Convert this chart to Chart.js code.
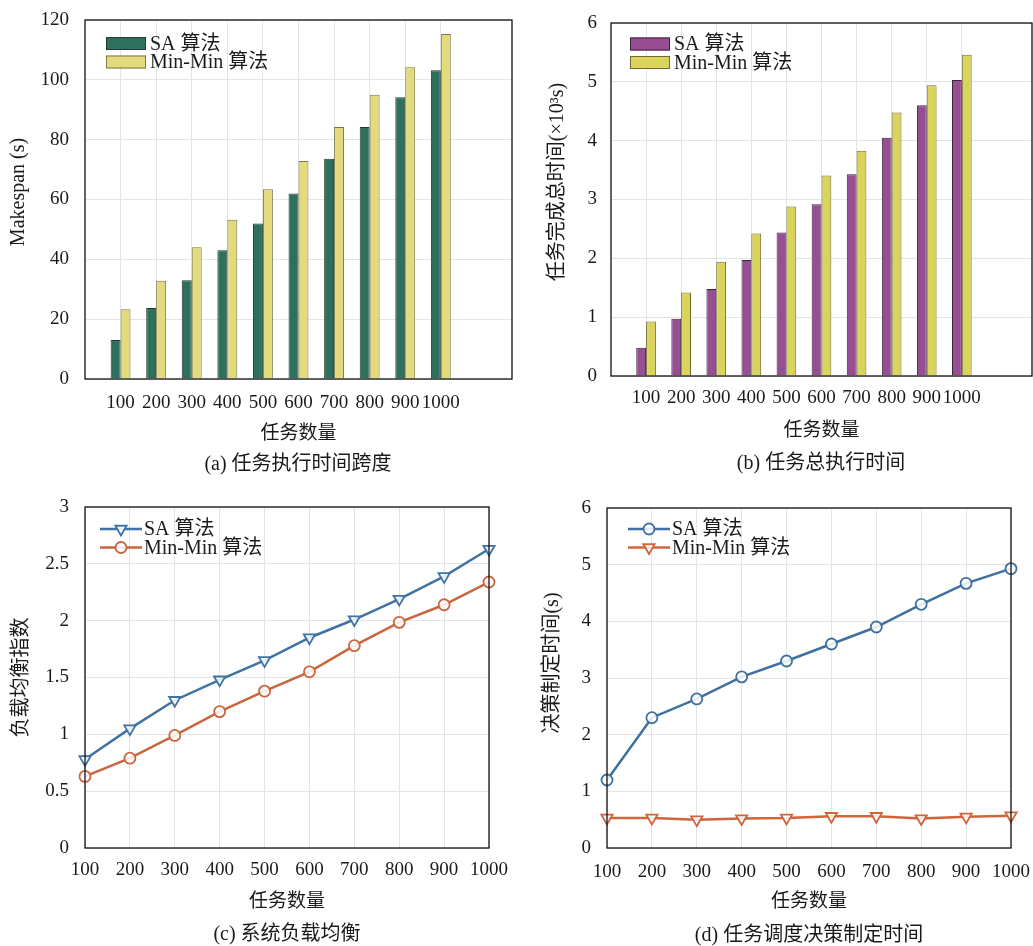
<!DOCTYPE html>
<html>
<head>
<meta charset="utf-8">
<script src="https://cdn.jsdelivr.net/npm/chart.js@4.4.0/dist/chart.umd.min.js"></script>
<style>
  body { margin: 0; background: #fff; }
  #page { position: relative; width: 1033px; height: 946px; overflow: hidden; }
  .box { position: absolute; }
  .cap { position: absolute; transform: translateX(-50%); white-space: nowrap;
         font: 20px 'Liberation Serif', 'Noto Sans CJK SC', serif; color: #1a1a1a; line-height: 1; }
</style>
</head>
<body>
<div id="page">
  <div class="box" style="left:0;top:0;width:516px;height:478px"><canvas id="chartA"></canvas></div>
  <div class="box" style="left:516px;top:0;width:517px;height:478px"><canvas id="chartB"></canvas></div>
  <div class="box" style="left:0;top:478px;width:516px;height:468px"><canvas id="chartC"></canvas></div>
  <div class="box" style="left:516px;top:478px;width:517px;height:468px"><canvas id="chartD"></canvas></div>
  <div class="cap" style="left:298px;top:453px">(a) 任务执行时间跨度</div>
  <div class="cap" style="left:821px;top:452px">(b) 任务总执行时间</div>
  <div class="cap" style="left:287px;top:923px">(c) 系统负载均衡</div>
  <div class="cap" style="left:809px;top:924px">(d) 任务调度决策制定时间</div>
</div>
<script>
'use strict';

// ---- data ----
const taskCounts = [100, 200, 300, 400, 500, 600, 700, 800, 900, 1000];
const seriesNames = ['SA 算法', 'Min-Min 算法'];

// (a) makespan (s)
const makespanSA = [13, 23.7, 33, 43, 52, 62, 73.6, 84.2, 94.2, 103.2];
const makespanMinMin = [23.3, 32.8, 44, 53.2, 63.4, 72.9, 84.2, 95, 104.2, 115.3];

// (b) total completion time (x10^3 s)
const totalTimeSA = [0.48, 0.975, 1.48, 1.97, 2.44, 2.92, 3.43, 4.05, 4.6, 5.03];
const totalTimeMinMin = [0.925, 1.42, 1.94, 2.42, 2.88, 3.41, 3.83, 4.48, 4.94, 5.46];

// (c) load balance index
const loadSA = [0.78, 1.05, 1.30, 1.48, 1.65, 1.85, 2.01, 2.19, 2.39, 2.63];
const loadMinMin = [0.63, 0.79, 0.99, 1.20, 1.38, 1.55, 1.78, 1.985, 2.14, 2.34];

// (d) decision time (s)
const decisionSA = [1.2, 2.3, 2.63, 3.02, 3.3, 3.6, 3.9, 4.3, 4.67, 4.93];
const decisionMinMin = [0.53, 0.53, 0.50, 0.52, 0.53, 0.56, 0.56, 0.52, 0.55, 0.57];

// ---- look ----
const FONT = "'Liberation Serif', 'Noto Sans CJK SC', serif";
const GRID = '#e4e4e4';
const NO_TICK = 'rgba(0,0,0,0)';
Chart.defaults.font.family = FONT;
Chart.defaults.color = '#1a1a1a';

function pts(ys) {
  return taskCounts.map((t, i) => ({ x: t, y: ys[i] }));
}

// black frame round the plot
const framePlugin = {
  id: 'frame',
  afterDraw(chart) {
    const { ctx, chartArea: a } = chart;
    ctx.save();
    ctx.strokeStyle = '#111';
    ctx.lineWidth = 1.3;
    ctx.strokeRect(a.left, a.top, a.right - a.left, a.bottom - a.top);
    ctx.restore();
  }
};

// legend drawn inside the plot, top left
const insideLegend = {
  id: 'insideLegend',
  afterDraw(chart, args, opts) {
    const { ctx, chartArea: a } = chart;
    ctx.save();
    ctx.font = '20px ' + FONT;
    ctx.textBaseline = 'middle';
    chart.data.datasets.forEach((ds, i) => {
      const x = a.left + opts.x;
      const y = a.top + opts.y + i * opts.gap;
      if (chart.config.type === 'bar') {
        ctx.fillStyle = ds.backgroundColor;
        ctx.fillRect(x, y - 6.5, 40, 13);
        ctx.strokeStyle = ds.borderColor;
        ctx.lineWidth = 1;
        ctx.strokeRect(x + 0.5, y - 6, 39, 12);
      } else {
        ctx.strokeStyle = ds.borderColor;
        ctx.lineWidth = ds.borderWidth;
        ctx.beginPath();
        ctx.moveTo(x, y);
        ctx.lineTo(x + 42, y);
        ctx.stroke();
        ctx.fillStyle = ds.pointBackgroundColor;
        ctx.lineWidth = ds.pointBorderWidth;
        Chart.helpers.drawPoint(ctx, {
          pointStyle: ds.pointStyle, radius: ds.pointRadius,
          rotation: ds.pointRotation || 0, borderWidth: ds.pointBorderWidth
        }, x + 21, y);
      }
      ctx.fillStyle = '#1a1a1a';
      ctx.fillText(ds.label, x + 44, y + 1);
    });
    ctx.restore();
  }
};

function makeChart(id, cfg) {
  const isBar = cfg.type === 'bar';
  return new Chart(document.getElementById(id), {
    type: cfg.type,
    data: { datasets: cfg.datasets },
    plugins: [framePlugin, insideLegend],
    options: {
      responsive: true,
      maintainAspectRatio: false,
      animation: false,
      layout: { padding: cfg.padding },
      plugins: {
        legend: { display: false },
        tooltip: { enabled: false },
        insideLegend: cfg.legend
      },
      datasets: { bar: { categoryPercentage: 0.56, barPercentage: 1 } },
      scales: {
        x: {
          type: 'linear',
          min: isBar ? 0 : 100,
          max: isBar ? 1200 : 1000,
          offset: false,
          border: { display: false },
          // invisible tick marks make the gap under the axis
          grid: { color: GRID, drawTicks: true, tickLength: cfg.xTickGap, tickColor: NO_TICK, offset: false },
          ticks: {
            stepSize: 100,
            autoSkip: false,
            maxRotation: 0,
            padding: 0,
            font: { size: 19 },
            callback: v => (v >= 100 && v <= 1000) ? String(v) : null
          },
          title: {
            display: true, text: '任务数量',
            font: { size: 19 },
            padding: { top: 0, bottom: cfg.xTitlePad }
          },
          afterFit: s => { s.height = cfg.xHeight; }
        },
        y: {
          min: 0,
          max: cfg.yMax,
          border: { display: false },
          grid: { color: GRID, drawTicks: true, tickLength: cfg.yTickGap - 3, tickColor: NO_TICK },
          ticks: {
            stepSize: cfg.yStep,
            padding: 3,
            font: { size: 19 },
            callback: v => String(v)
          },
          title: {
            display: true, text: ' '.repeat(cfg.yTitleShift) + cfg.yTitle,
            font: { size: 20 },
            padding: { top: cfg.yTitlePad, bottom: 0 }
          },
          afterFit: s => { s.width = cfg.yWidth; }
        }
      }
    }
  });
}

function barSet(label, ys, fill, edge) {
  return { label, data: pts(ys), backgroundColor: fill, borderColor: edge, borderWidth: 1 };
}

function lineSet(label, ys, color, style) {
  return {
    label, data: pts(ys), borderColor: color, borderWidth: 2.5,
    pointStyle: style, pointRadius: style === 'triangle' ? 6.5 : 5.5,
    pointRotation: style === 'triangle' ? 180 : 0,
    pointBorderColor: color, pointBackgroundColor: 'rgba(255,255,255,0.85)',
    pointBorderWidth: 1.8, clip: false, tension: 0
  };
}

makeChart('chartA', {
  type: 'bar',
  datasets: [
    barSet(seriesNames[0], makespanSA, '#2f6f5e', '#1f3b32'),
    barSet(seriesNames[1], makespanMinMin, '#e2da7d', '#7b784a')
  ],
  padding: { left: 0, top: 20, right: 4, bottom: 0 },
  yWidth: 85, yMax: 120, yStep: 20, yTickGap: 16, yTitle: 'Makespan (s)', yTitlePad: 7, yTitleShift: 3,
  xHeight: 99, xTickGap: 13, xTitlePad: 33,
  legend: { x: 21, y: 23.5, gap: 18.5 }
});

makeChart('chartB', {
  type: 'bar',
  datasets: [
    barSet(seriesNames[0], totalTimeSA, '#984e93', '#3b2338'),
    barSet(seriesNames[1], totalTimeMinMin, '#dad35c', '#6f6b33')
  ],
  padding: { left: 0, top: 23, right: 1, bottom: 0 },
  yWidth: 95, yMax: 6, yStep: 1, yTickGap: 14, yTitle: '任务完成总时间(×10³s)', yTitlePad: 30, yTitleShift: 7,
  xHeight: 102, xTickGap: 11, xTitlePad: 36,
  legend: { x: 19, y: 21, gap: 18.5 }
});

makeChart('chartC', {
  type: 'line',
  datasets: [
    lineSet(seriesNames[0], loadSA, '#4173a2', 'triangle'),
    lineSet(seriesNames[1], loadMinMin, '#c9663e', 'circle')
  ],
  padding: { left: 0, top: 29, right: 27, bottom: 0 },
  yWidth: 85, yMax: 3, yStep: 0.5, yTickGap: 16, yTitle: '负载均衡指数', yTitlePad: 10, yTitleShift: 0,
  xHeight: 98, xTickGap: 11, xTitlePad: 33,
  legend: { x: 15, y: 22, gap: 18.5 }
});

makeChart('chartD', {
  type: 'line',
  datasets: [
    lineSet(seriesNames[0], decisionSA, '#3f709f', 'circle'),
    lineSet(seriesNames[1], decisionMinMin, '#d0643b', 'triangle')
  ],
  padding: { left: 0, top: 30, right: 22, bottom: 0 },
  yWidth: 91, yMax: 6, yStep: 1, yTickGap: 16, yTitle: '决策制定时间(s)', yTitlePad: 25, yTitleShift: 6,
  xHeight: 98, xTickGap: 13, xTitlePad: 33,
  legend: { x: 21, y: 21, gap: 18.5 }
});
</script>
</body>
</html>
